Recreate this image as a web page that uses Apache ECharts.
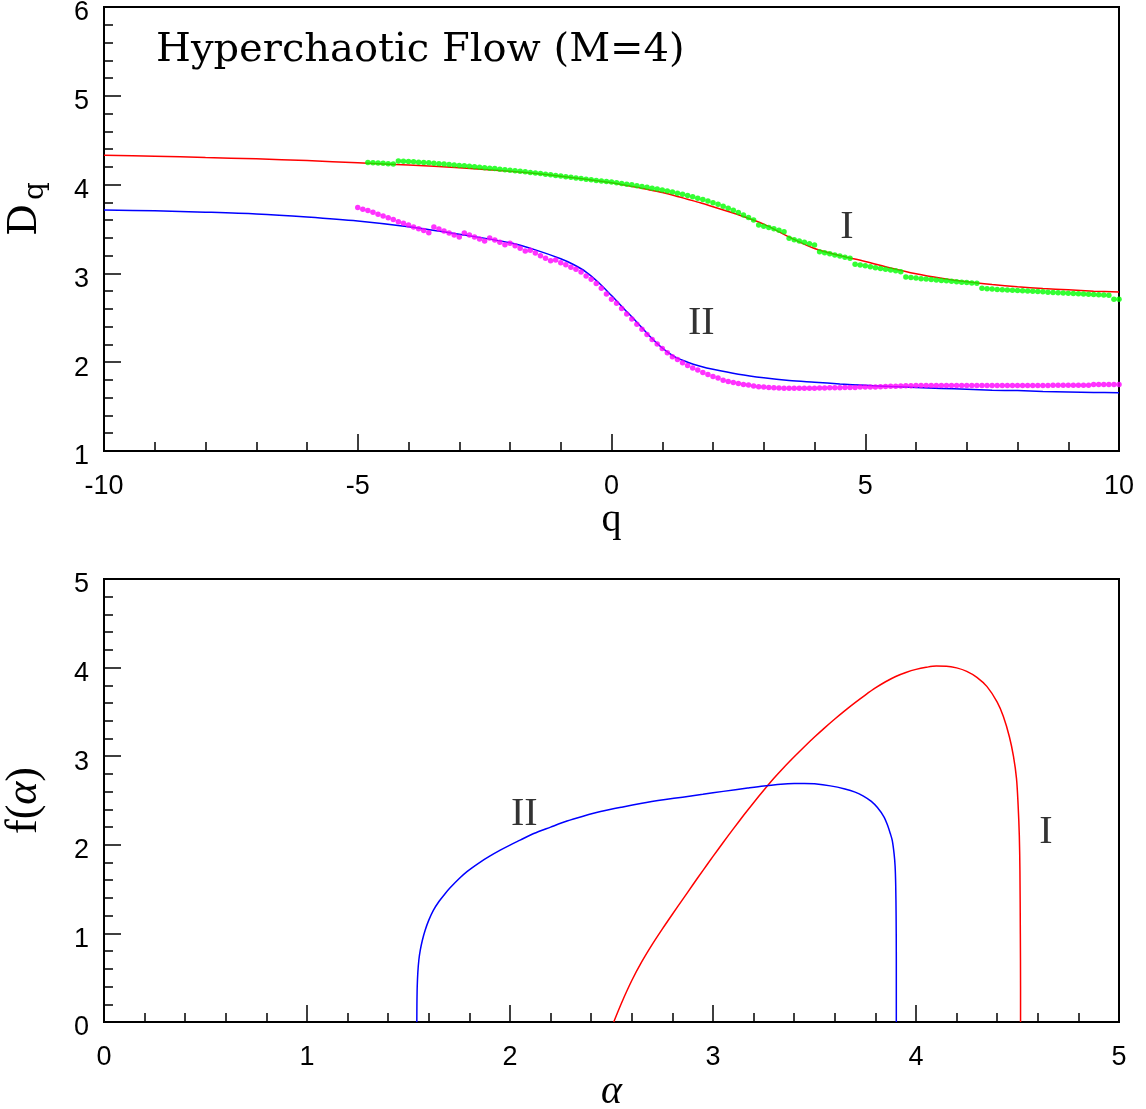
<!DOCTYPE html>
<html><head><meta charset="utf-8">
<script src="https://cdn.jsdelivr.net/npm/echarts@6/dist/echarts.min.js"></script>
<style>html,body{margin:0;padding:0;background:#fff}#c{width:1146px;height:1109px}</style>
</head><body><div id="c"></div>
<script>
// ---- Top panel: D_q vs q ----
const qLine = [-10,-9,-8,-7,-6,-5,-4,-3,-2,-1.5,-1,-0.75,-0.5,-0.25,0,0.25,0.5,0.75,1,1.25,1.5,1.75,2,2.5,3,3.5,4,4.5,5,5.5,6,6.5,7,7.5,8,8.5,9,9.5,10];
const DqLineI = [4.33,4.32,4.305,4.29,4.27,4.245,4.22,4.19,4.15,4.125,4.095,4.078,4.06,4.04,4.02,3.995,3.97,3.94,3.91,3.875,3.835,3.795,3.75,3.66,3.555,3.41,3.28,3.20,3.135,3.06,2.995,2.945,2.905,2.875,2.85,2.83,2.815,2.80,2.79];
const DqLineII = [3.715,3.705,3.69,3.67,3.635,3.59,3.525,3.44,3.345,3.265,3.165,3.10,3.015,2.895,2.75,2.60,2.45,2.295,2.16,2.06,2.00,1.955,1.92,1.865,1.825,1.795,1.775,1.755,1.74,1.725,1.715,1.705,1.695,1.685,1.68,1.67,1.665,1.66,1.655];

const qDots = [
-5.0,-4.9,-4.8,-4.7,-4.6,-4.5,-4.4,-4.3,-4.2,-4.1,
-4.0,-3.9,-3.8,-3.7,-3.6,-3.5,-3.4,-3.3,-3.2,-3.1,
-3.0,-2.9,-2.8,-2.7,-2.6,-2.5,-2.4,-2.3,-2.2,-2.1,
-2.0,-1.9,-1.8,-1.7,-1.6,-1.5,-1.4,-1.3,-1.2,-1.1,
-1.0,-0.9,-0.8,-0.7,-0.6,-0.5,-0.4,-0.3,-0.2,-0.1,
0.0,0.1,0.2,0.3,0.4,0.5,0.6,0.7,0.8,0.9,
1.0,1.1,1.2,1.3,1.4,1.5,1.6,1.7,1.8,1.9,
2.0,2.1,2.2,2.3,2.4,2.5,2.6,2.7,2.8,2.9,
3.0,3.1,3.2,3.3,3.4,3.5,3.6,3.7,3.8,3.9,
4.0,4.1,4.2,4.3,4.4,4.5,4.6,4.7,4.8,4.9,
5.0,5.1,5.2,5.3,5.4,5.5,5.6,5.7,5.8,5.9,
6.0,6.1,6.2,6.3,6.4,6.5,6.6,6.7,6.8,6.9,
7.0,7.1,7.2,7.3,7.4,7.5,7.6,7.7,7.8,7.9,
8.0,8.1,8.2,8.3,8.4,8.5,8.6,8.7,8.8,8.9,
9.0,9.1,9.2,9.3,9.4,9.5,9.6,9.7,9.8,9.9,
10.0];
const DqDotsI = [
null,null,4.248,4.246,4.243,4.240,4.236,4.232,4.267,4.264,
4.261,4.257,4.253,4.249,4.245,4.240,4.236,4.231,4.226,4.221,
4.216,4.211,4.206,4.201,4.196,4.191,4.185,4.180,4.174,4.168,
4.162,4.156,4.150,4.144,4.137,4.131,4.124,4.117,4.110,4.103,
4.096,4.089,4.082,4.075,4.068,4.061,4.054,4.047,4.040,4.035,
4.028,4.020,4.013,4.005,3.997,3.988,3.979,3.970,3.960,3.950,
3.940,3.928,3.916,3.903,3.890,3.877,3.863,3.847,3.831,3.814,
3.797,3.779,3.757,3.734,3.710,3.685,3.658,3.630,3.602,3.546,
3.532,3.517,3.502,3.486,3.470,3.395,3.380,3.365,3.350,3.335,
3.320,3.245,3.232,3.220,3.207,3.195,3.182,3.170,3.103,3.095,
3.085,3.075,3.065,3.056,3.047,3.038,3.029,3.019,2.959,2.953,
2.947,2.941,2.936,2.931,2.926,2.921,2.916,2.911,2.906,2.901,
2.897,2.892,2.888,2.832,2.828,2.824,2.820,2.816,2.813,2.810,
2.807,2.804,2.801,2.798,2.795,2.792,2.789,2.786,2.783,2.780,
2.777,2.774,2.771,2.768,2.765,2.762,2.759,2.756,2.753,2.708,
2.708];
const DqDotsII = [
3.741,3.722,3.707,3.688,3.666,3.647,3.628,3.606,3.583,3.564,
3.545,3.523,3.504,3.482,3.459,3.523,3.500,3.478,3.455,3.433,
3.410,3.455,3.433,3.410,3.388,3.365,3.399,3.376,3.350,3.324,
3.339,3.312,3.282,3.252,3.260,3.230,3.200,3.170,3.143,3.151,
3.121,3.098,3.068,3.046,3.016,2.970,2.933,2.885,2.832,2.768,
2.708,2.663,2.606,2.543,2.486,2.426,2.370,2.313,2.257,2.204,
2.155,2.107,2.062,2.031,1.994,1.964,1.934,1.911,1.885,1.862,
1.840,1.821,1.798,1.783,1.772,1.761,1.750,1.742,1.731,1.723,
1.720,1.716,1.712,1.710,1.708,1.707,1.706,1.706,1.706,1.707,
1.708,1.709,1.710,1.711,1.712,1.713,1.714,1.715,1.716,1.720,
1.721,1.721,1.722,1.724,1.726,1.728,1.730,1.732,1.734,1.736,
1.737,1.737,1.738,1.738,1.738,1.738,1.738,1.738,1.738,1.738,
1.738,1.738,1.738,1.738,1.738,1.738,1.739,1.739,1.739,1.739,
1.739,1.739,1.739,1.739,1.739,1.739,1.739,1.740,1.740,1.740,
1.740,1.740,1.740,1.740,1.740,1.748,1.749,1.749,1.750,1.750,
1.750];

// ---- Bottom panel: f(alpha) vs alpha ----
const alphaI = [2.511,2.55,2.60,2.65,2.70,2.75,2.80,2.85,2.90,2.95,3.00,3.05,3.10,3.15,3.20,3.25,3.30,3.35,3.40,3.45,3.50,3.55,3.60,3.65,3.70,3.75,3.80,3.85,3.90,3.95,4.00,4.05,4.10,4.15,4.20,4.25,4.30,4.35,4.40,4.43,4.46,4.48,4.495,4.503,4.509,4.512,4.514,4.515,4.515];
const fAlphaI = [0,0.218,0.468,0.683,0.873,1.048,1.216,1.381,1.546,1.709,1.869,2.026,2.18,2.33,2.475,2.615,2.75,2.875,2.993,3.107,3.216,3.32,3.42,3.515,3.605,3.69,3.77,3.84,3.90,3.945,3.98,4.003,4.017,4.016,3.997,3.958,3.89,3.785,3.61,3.45,3.22,3.00,2.75,2.45,2.10,1.70,1.00,0.40,0];
const alphaII = [1.541,1.5415,1.543,1.546,1.551,1.558,1.568,1.582,1.600,1.623,1.650,1.680,1.705,1.750,1.788,1.850,1.900,1.952,2.000,2.050,2.117,2.200,2.281,2.360,2.446,2.550,2.650,2.765,2.850,2.950,3.050,3.171,3.250,3.334,3.400,3.450,3.500,3.578,3.650,3.700,3.741,3.780,3.810,3.842,3.860,3.873,3.883,3.892,3.897,3.900,3.902,3.903,3.903];
const fAlphaII = [0,0.20,0.40,0.56,0.70,0.81,0.92,1.036,1.15,1.262,1.36,1.448,1.515,1.620,1.698,1.800,1.872,1.940,1.997,2.053,2.128,2.200,2.268,2.322,2.375,2.425,2.468,2.510,2.538,2.570,2.603,2.640,2.663,2.683,2.692,2.693,2.688,2.665,2.63,2.595,2.55,2.49,2.42,2.316,2.22,2.13,2.05,1.90,1.76,1.55,1.20,0.70,0];

// ---- Curve labels ----
const topLabelText = ['I','II'];
const topLabelQ = [4.64, 1.77];
const topLabelD = [3.52, 2.44];
const botLabelText = ['II','I'];
const botLabelA = [2.07, 4.64];
const botLabelF = [2.34, 2.14];

const pairs = (xs, ys) => xs.map((x,i)=>[x, ys[i]]).filter(p => p[1] !== null);

function axisBase(min, max, interval) {
  return {
    type:'value', min:min, max:max, interval:interval,
    axisLine:{show:true, onZero:false, lineStyle:{color:'#000', width:2}},
    axisTick:{show:true, inside:true, length:17, lineStyle:{color:'#000', width:1.5}},
    minorTick:{show:true, splitNumber:5, length:9, lineStyle:{color:'#000', width:1.5}},
    splitLine:{show:false}, minorSplitLine:{show:false},
    axisLabel:{color:'#000', fontFamily:'Liberation Sans', fontSize:27}
  };
}

const serif = 'Liberation Serif';
const labelSeries = (xi, yi, texts, xs, ys) => ({
  type:'scatter', xAxisIndex:xi, yAxisIndex:yi, symbolSize:1,
  itemStyle:{color:'rgba(0,0,0,0)'}, silent:true, z:5,
  data: texts.map((t,i)=>({value:[xs[i], ys[i]], name:t})),
  label:{show:true, position:'inside', formatter:p=>p.name, color:'#000', textBorderWidth:0,
    fontFamily:serif, fontSize:40}
});

const x0 = axisBase(-10, 10, 5);
x0.gridIndex = 0; x0.name = 'q'; x0.nameLocation = 'middle'; x0.nameGap = 46;
x0.nameTextStyle = {color:'#000', fontFamily:serif, fontSize:40};
x0.axisLabel.margin = 22;
const y0 = axisBase(1, 6, 1);
y0.gridIndex = 0; y0.axisLabel.margin = 15; y0.axisLabel.verticalAlign = 'top'; y0.axisLabel.lineHeight = 12;
y0.name = '{d|D}{s|q}'; y0.nameLocation = 'middle'; y0.nameGap = 54; y0.nameRotate = 90;
y0.nameTextStyle = {color:'#000', padding:[0,0,0,40], rich:{
  d:{fontFamily:'DejaVu Serif', fontSize:40, lineHeight:48, color:'#000'},
  s:{fontFamily:'DejaVu Serif', fontSize:28, lineHeight:20, verticalAlign:'bottom', padding:[0,0,0,4], color:'#000'}}};

const x1 = axisBase(0, 5, 1);
x1.gridIndex = 1; x1.name = '{a|α}'; x1.nameLocation = 'middle'; x1.nameGap = 50;
x1.nameTextStyle = {color:'#000', rich:{a:{fontFamily:serif, fontStyle:'italic', fontSize:40, color:'#000'}}};
x1.axisLabel.margin = 22;
const y1 = axisBase(0, 5, 1);
y1.gridIndex = 1; y1.axisLabel.margin = 15; y1.axisLabel.verticalAlign = 'top'; y1.axisLabel.lineHeight = 12;
y1.name = '{n|f(}{a|α}{n|)}'; y1.nameLocation = 'middle'; y1.nameGap = 55; y1.nameRotate = 90;
y1.nameTextStyle = {color:'#000', rich:{
  n:{fontFamily:serif, fontSize:44, lineHeight:50, color:'#000'},
  a:{fontFamily:serif, fontStyle:'italic', fontSize:44, lineHeight:50, color:'#000'}}};

const chart = echarts.init(document.getElementById('c'), null, {renderer:'canvas'});
chart.setOption({
  animation:false,
  backgroundColor:'#fff',
  title:{text:'Hyperchaotic Flow (M=4)', left:156, top:31, padding:0,
    textStyle:{fontFamily:'DejaVu Serif', fontSize:40, fontWeight:'normal', color:'#000'}},
  grid:[
    {left:104, right:27, top:7, height:444, outerBoundsMode:'none', containLabel:false,
      show:true, borderColor:'#000', borderWidth:2, backgroundColor:'transparent'},
    {left:104, right:27, top:579, height:443, outerBoundsMode:'none', containLabel:false,
      show:true, borderColor:'#000', borderWidth:2, backgroundColor:'transparent'}
  ],
  xAxis:[x0, x1],
  yAxis:[y0, y1],
  series:[
    {type:'line', xAxisIndex:0, yAxisIndex:0, data:pairs(qLine, DqLineI), showSymbol:false, smooth:0.3,
      lineStyle:{color:'#ff0000', width:1.5}, z:2},
    {type:'line', xAxisIndex:0, yAxisIndex:0, data:pairs(qLine, DqLineII), showSymbol:false, smooth:0.3,
      lineStyle:{color:'#0000ff', width:1.5}, z:2},
    {type:'scatter', xAxisIndex:0, yAxisIndex:0, data:pairs(qDots, DqDotsI), symbolSize:5.5,
      itemStyle:{color:'#00ff00'}, z:3},
    {type:'scatter', xAxisIndex:0, yAxisIndex:0, data:pairs(qDots, DqDotsII), symbolSize:5.5,
      itemStyle:{color:'#ff00ff'}, z:3},
    {type:'line', xAxisIndex:1, yAxisIndex:1, data:pairs(alphaI, fAlphaI), showSymbol:false, smooth:0.3,
      lineStyle:{color:'#ff0000', width:1.5}, z:2},
    {type:'line', xAxisIndex:1, yAxisIndex:1, data:pairs(alphaII, fAlphaII), showSymbol:false, smooth:0.3,
      lineStyle:{color:'#0000ff', width:1.5}, z:2},
    labelSeries(0, 0, topLabelText, topLabelQ, topLabelD),
    labelSeries(1, 1, botLabelText, botLabelA, botLabelF)
  ]
});
</script></body></html>
